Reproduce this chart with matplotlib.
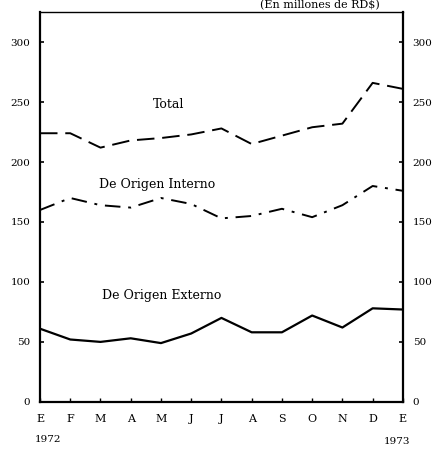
import matplotlib
matplotlib.use("Agg")
import matplotlib.pyplot as plt

months = ["E", "F", "M", "A", "M", "J", "J", "A", "S", "O", "N", "D", "E"]
total = [224, 224, 212, 218, 220, 223, 228, 215, 222, 229, 232, 266, 261]
interno = [160, 170, 164, 162, 170, 165, 153, 155, 161, 154, 164, 180, 176]
externo = [61, 52, 50, 53, 49, 57, 70, 58, 58, 72, 62, 78, 77]
yticks = [0, 50, 100, 150, 200, 250, 300]

plt.rcParams['font.family'] = ['DejaVu Serif']
fig = plt.figure(figsize=(4.42, 4.49), dpi=100)
ax = fig.add_axes([0.0905, 0.105, 0.821, 0.868])
x = list(range(len(months)))
ax.plot(x, total, color='black', lw=1.4, dashes=(9, 4))
ax.plot(x, interno, color='black', lw=1.4, dashes=(8, 4, 1.5, 4))
ax.plot(x, externo, color='black', lw=1.6)
ax.set_xlim(0, 12)
ax.set_ylim(0, 325)
ax.set_yticks(yticks)
ax.set_yticklabels([str(v) for v in yticks], fontsize=7.5)
ax.tick_params(axis='y', direction='in', length=3, width=1.2, right=True,
               labelright=True, pad=7)
ax.set_xticks(x)
ax.set_xticklabels(months, fontsize=8)
ax.tick_params(axis='x', direction='in', length=3, width=1, pad=9)
for s in ax.spines.values():
    s.set_linewidth(1.6)
ax.spines['top'].set_linewidth(1.0)

ax.text(4.24, 248, "Total", fontsize=9, ha='center', va='center')
ax.text(3.87, 181, "De Origen Interno", fontsize=9, ha='center', va='center')
ax.text(4.04, 89, "De Origen Externo", fontsize=9, ha='center', va='center')

fig.text(48/442, 1 - 439/449, "1972", fontsize=7.5, ha='center', va='center')
fig.text(397/442, 1 - 441/449, "1973", fontsize=7.5, ha='center', va='center')
fig.text(320/442, 1 - 5/449, "(En millones de RD$)", fontsize=8, ha='center', va='center')

fig.savefig("out.png", dpi=100)
